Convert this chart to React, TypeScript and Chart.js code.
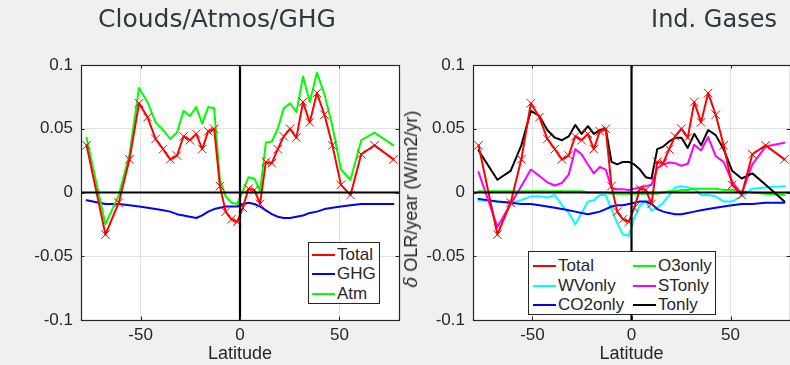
import React, { useEffect, useRef } from 'react';
import { Chart, registerables } from 'chart.js';

Chart.register(...registerables);

// ---------- data ----------
const latitudes = [-77.2, -67.7, -61.0, -55.6, -50.8, -46.5, -42.5, -38.7, -35.1, -31.7, -28.4, -25.2, -22.0, -19.0, -16.0, -13.0, -10.1, -7.2, -4.3, -1.4, 1.4, 4.3, 7.2, 10.1, 13.0, 16.0, 19.0, 22.0, 25.2, 28.4, 31.7, 35.1, 38.7, 42.5, 46.5, 50.8, 55.6, 61.0, 67.7, 77.2];

const total = [0.037, -0.033, -0.008, 0.026, 0.070, 0.059, 0.042, 0.034, 0.026, 0.029, 0.044, 0.041, 0.046, 0.034, 0.048, 0.050, 0.005, -0.015, -0.021, -0.023, -0.012, 0.003, 0.002, -0.009, 0.024, 0.023, 0.034, 0.044, 0.050, 0.043, 0.071, 0.055, 0.078, 0.061, 0.037, 0.006, -0.002, 0.030, 0.037, 0.026];

const ghg = [-0.006, -0.009, -0.009, -0.010, -0.011, -0.012, -0.013, -0.014, -0.015, -0.017, -0.018, -0.019, -0.020, -0.018, -0.015, -0.013, -0.012, -0.011, -0.011, -0.011, -0.009, -0.008, -0.009, -0.011, -0.014, -0.017, -0.019, -0.020, -0.020, -0.019, -0.018, -0.016, -0.015, -0.013, -0.012, -0.011, -0.010, -0.009, -0.009, -0.009];

const atm = [0.043, -0.025, -0.002, 0.030, 0.082, 0.071, 0.055, 0.049, 0.042, 0.047, 0.064, 0.060, 0.067, 0.054, 0.067, 0.066, 0.010, -0.003, -0.008, -0.009, 0.001, 0.012, 0.011, 0.001, 0.039, 0.040, 0.050, 0.066, 0.070, 0.063, 0.091, 0.071, 0.094, 0.077, 0.052, 0.018, 0.010, 0.041, 0.047, 0.037];

const wvOnly = [-0.006, -0.007, -0.008, -0.006, -0.003, -0.003, -0.004, -0.002, -0.010, -0.016, -0.025, -0.016, -0.007, -0.006, -0.002, -0.002, -0.013, -0.024, -0.033, -0.034, -0.020, -0.010, -0.007, -0.014, -0.012, -0.008, -0.002, 0.004, 0.005, 0.004, 0.003, -0.002, -0.002, -0.003, -0.007, -0.007, -0.003, 0.003, 0.004, 0.005];

const co2Only = [-0.005, -0.007, -0.008, -0.009, -0.009, -0.010, -0.011, -0.012, -0.013, -0.014, -0.015, -0.016, -0.017, -0.016, -0.015, -0.013, -0.011, -0.010, -0.010, -0.009, -0.008, -0.007, -0.007, -0.009, -0.013, -0.015, -0.016, -0.017, -0.017, -0.016, -0.015, -0.014, -0.013, -0.012, -0.011, -0.010, -0.009, -0.009, -0.008, -0.008];

const o3Only = [0.001, 0.001, 0.001, 0.001, 0.001, 0.001, 0.001, 0.001, 0.001, 0.001, 0.001, 0.001, 0.0, 0.0, 0.0, 0.0, -0.001, -0.001, -0.001, -0.001, -0.001, -0.001, -0.001, -0.001, -0.001, 0.0, 0.001, 0.001, 0.002, 0.002, 0.003, 0.003, 0.003, 0.003, 0.002, 0.002, 0.001, 0.0, -0.001, -0.002];

const stOnly = [0.016, -0.027, -0.009, 0.005, 0.018, 0.013, 0.008, 0.0055, 0.0075, 0.014, 0.034, 0.030, 0.022, 0.015, 0.020, 0.018, 0.0035, 0.0025, 0.0025, 0.002, 0.003, 0.004, 0.005, 0.006, 0.019, 0.022, 0.0235, 0.023, 0.021, 0.0225, 0.0375, 0.033, 0.0435, 0.0285, 0.024, 0.0085, -0.001, 0.022, 0.036, 0.039];

const tOnly = [0.033, 0.010, 0.017, 0.037, 0.064, 0.060, 0.049, 0.043, 0.041, 0.044, 0.053, 0.046, 0.052, 0.046, 0.049, 0.050, 0.024, 0.022, 0.024, 0.024, 0.022, 0.018, 0.012, 0.011, 0.034, 0.036, 0.040, 0.043, 0.043, 0.035, 0.046, 0.037, 0.049, 0.045, 0.034, 0.017, 0.011, 0.015, 0.006, -0.007];

const xTicks = [-50, 0, 50];
const xTickLabels = ['-50', '0', '50'];
const yTicks = [-0.1, -0.05, 0, 0.05, 0.1];
const yTickLabels = ['-0.1', '-0.05', '0', '0.05', '0.1'];

const leftTitle = 'Clouds/Atmos/GHG';
const rightTitle = 'Ind. Gases';
const xAxisTitle = 'Latitude';
const yAxisTitleRest = ' OLR/year (W/m2/yr)';

// ---------- styling ----------
const AXIS_FONT = "'Liberation Sans', Arial, Helvetica, sans-serif";
const TEXT = '#262626';
const RED = '#ff0000';
const BLUE = '#0000ff';
const GREEN = '#00ff00';
const CYAN = '#00ffff';
const MAGENTA = '#ff00ff';
const BLACK = '#000000';

function lineDataset(label: string, values: number[], color: string, order: number, extra: any = {}) {
  return {
    label,
    data: latitudes.map((x, i) => ({ x, y: values[i] })),
    borderColor: color,
    backgroundColor: color,
    borderWidth: 2,
    pointRadius: 0,
    tension: 0,
    fill: false,
    borderJoinStyle: 'round',
    borderCapStyle: 'round',
    order,
    ...extra,
  };
}

const totalMarker = {
  pointStyle: 'crossRot',
  pointRadius: 6,
  pointHoverRadius: 6,
  pointBorderWidth: 1,
  pointBorderColor: RED,
};

const framePlugin = {
  id: 'matlabFrame',
  beforeDraw(chart: any) {
    const { ctx, chartArea: a } = chart;
    ctx.save();
    ctx.fillStyle = '#ffffff';
    ctx.fillRect(a.left, a.top, a.right - a.left, a.bottom - a.top);
    ctx.restore();
  },
  afterDatasetsDraw(chart: any) {
    const { ctx, chartArea: a, scales } = chart;
    const xs = scales.x;
    const ys = scales.y;
    const x0 = xs.getPixelForValue(0);
    const y0 = ys.getPixelForValue(0);
    ctx.save();
    ctx.beginPath();
    ctx.rect(a.left, a.top, a.right - a.left, a.bottom - a.top);
    ctx.clip();
    ctx.strokeStyle = '#000000';
    ctx.lineWidth = 2.2;
    ctx.beginPath();
    ctx.moveTo(a.left, y0);
    ctx.lineTo(a.right, y0);
    ctx.moveTo(x0, a.top);
    ctx.lineTo(x0, a.bottom);
    ctx.stroke();
    ctx.restore();

    ctx.save();
    ctx.strokeStyle = TEXT;
    ctx.lineWidth = 1;
    const tl = 3.5;
    ctx.beginPath();
    xs.ticks.forEach((t: any) => {
      const px = Math.round(xs.getPixelForValue(t.value)) + 0.5;
      ctx.moveTo(px, a.top);
      ctx.lineTo(px, a.top + tl);
      ctx.moveTo(px, a.bottom);
      ctx.lineTo(px, a.bottom - tl);
    });
    ys.ticks.forEach((t: any) => {
      const py = Math.round(ys.getPixelForValue(t.value)) + 0.5;
      ctx.moveTo(a.left, py);
      ctx.lineTo(a.left + tl, py);
      ctx.moveTo(a.right, py);
      ctx.lineTo(a.right - tl, py);
    });
    ctx.stroke();
    ctx.lineWidth = 1.2;
    ctx.strokeRect(Math.round(a.left) + 0.5, Math.round(a.top) + 0.5, Math.round(a.right - a.left), Math.round(a.bottom - a.top));
    ctx.restore();
  },
};

function makeConfig(datasets: any[], yWidth: number, padRight: number) {
  return {
    type: 'line',
    data: { datasets },
    options: {
      animation: false,
      responsive: false,
      events: [],
      layout: { autoPadding: false, padding: { left: 0, top: 65, right: padRight, bottom: 0 } },
      plugins: {
        legend: { display: false },
        tooltip: { enabled: false },
        title: { display: false },
      },
      scales: {
        x: {
          type: 'linear',
          min: -80,
          max: 80,
          afterBuildTicks: (s: any) => {
            s.ticks = xTicks.map((v) => ({ value: v }));
          },
          afterFit: (s: any) => {
            s.height = 45;
            s.paddingLeft = 0;
            s.paddingRight = 0;
          },
          grid: { color: '#e2e2e2', lineWidth: 1, drawTicks: false },
          border: { display: false },
          ticks: {
            padding: 5,
            color: TEXT,
            autoSkip: false,
            maxRotation: 0,
            font: { family: AXIS_FONT, size: 17, lineHeight: 1.2 },
            callback: (_v: any, i: number) => xTickLabels[i],
          },
          title: {
            display: true,
            text: xAxisTitle,
            color: TEXT,
            padding: { top: 0, bottom: 0 },
            font: { family: AXIS_FONT, size: 18, lineHeight: 1.2 },
          },
        },
        y: {
          type: 'linear',
          min: -0.1,
          max: 0.1,
          afterBuildTicks: (s: any) => {
            s.ticks = yTicks.map((v) => ({ value: v }));
          },
          afterFit: (s: any) => {
            s.width = yWidth;
            s.paddingTop = 0;
            s.paddingBottom = 0;
          },
          grid: { color: '#e2e2e2', lineWidth: 1, drawTicks: false },
          border: { display: false },
          ticks: {
            padding: 8,
            color: TEXT,
            autoSkip: false,
            font: { family: AXIS_FONT, size: 17, lineHeight: 1.2 },
            callback: (_v: any, i: number) => yTickLabels[i],
          },
        },
      },
    },
    plugins: [framePlugin],
  };
}

type LegendItem = { label: string; color: string; col: number; row: number };

const leftLegend: LegendItem[] = [
  { label: 'Total', color: RED, col: 0, row: 0 },
  { label: 'GHG', color: BLUE, col: 0, row: 1 },
  { label: 'Atm', color: GREEN, col: 0, row: 2 },
];

const rightLegend: LegendItem[] = [
  { label: 'Total', color: RED, col: 0, row: 0 },
  { label: 'WVonly', color: CYAN, col: 0, row: 1 },
  { label: 'CO2only', color: BLUE, col: 0, row: 2 },
  { label: 'O3only', color: GREEN, col: 1, row: 0 },
  { label: 'STonly', color: MAGENTA, col: 1, row: 1 },
  { label: 'Tonly', color: BLACK, col: 1, row: 2 },
];

function LegendBox(props: {
  items: LegendItem[];
  left: number;
  top: number;
  width: number;
  height: number;
  rowCenters: number[];
  colX: number[];
  swatch: number;
}) {
  const { items, left, top, width, height, rowCenters, colX, swatch } = props;
  return (
    <div
      style={{
        position: 'absolute',
        left,
        top,
        width,
        height,
        boxSizing: 'border-box',
        background: '#ffffff',
        border: '1px solid ' + TEXT,
      }}
    >
      {items.map((it) => (
        <React.Fragment key={it.label}>
          <div
            style={{
              position: 'absolute',
              left: colX[it.col],
              top: rowCenters[it.row] - 1,
              width: swatch,
              height: 2,
              background: it.color,
            }}
          />
          <span
            style={{
              position: 'absolute',
              left: colX[it.col] + swatch + 2,
              top: rowCenters[it.row] - 10,
              lineHeight: '20px',
              fontSize: 17,
              fontFamily: AXIS_FONT,
              color: TEXT,
              whiteSpace: 'nowrap',
            }}
          >
            {it.label}
          </span>
        </React.Fragment>
      ))}
    </div>
  );
}

export default function App() {
  const leftRef = useRef<HTMLCanvasElement | null>(null);
  const rightRef = useRef<HTMLCanvasElement | null>(null);

  useEffect(() => {
    const leftSets = [
      lineDataset('Total', total, RED, 0, totalMarker),
      lineDataset('GHG', ghg, BLUE, 2),
      lineDataset('Atm', atm, GREEN, 1),
    ];
    const rightSets = [
      lineDataset('Total', total, RED, 0, totalMarker),
      lineDataset('WVonly', wvOnly, CYAN, 5),
      lineDataset('CO2only', co2Only, BLUE, 4),
      lineDataset('O3only', o3Only, GREEN, 3),
      lineDataset('STonly', stOnly, MAGENTA, 2),
      lineDataset('Tonly', tOnly, BLACK, 1),
    ];
    const c1 = new Chart(leftRef.current as HTMLCanvasElement, makeConfig(leftSets, 81, 21) as any);
    const c2 = new Chart(rightRef.current as HTMLCanvasElement, makeConfig(rightSets, 53, 0) as any);
    return () => {
      c1.destroy();
      c2.destroy();
    };
  }, []);

  const titleStyle: React.CSSProperties = {
    position: 'absolute',
    top: 4,
    width: 320,
    textAlign: 'center',
    fontFamily: "'DejaVu Sans', Verdana, sans-serif",
    fontSize: 25,
    lineHeight: '30px',
    color: '#2b3a3e',
    whiteSpace: 'nowrap',
  };

  return (
    <div
      style={{
        position: 'absolute',
        left: 0,
        top: 0,
        width: 790,
        height: 365,
        background: '#f0f0f0',
        overflow: 'hidden',
      }}
    >
      <canvas
        ref={leftRef}
        width={420}
        height={365}
        style={{ position: 'absolute', left: 0, top: 0, width: 420, height: 365, display: 'block' }}
      />
      <canvas
        ref={rightRef}
        width={370}
        height={365}
        style={{ position: 'absolute', left: 420, top: 0, width: 370, height: 365, display: 'block' }}
      />
      <div style={{ ...titleStyle, left: 217 - 160 }}>{leftTitle}</div>
      <div style={{ ...titleStyle, left: 714 - 160, fontSize: 24 }}>{rightTitle}</div>
      <div
        style={{
          position: 'absolute',
          left: 411,
          top: 199,
          transform: 'translate(-50%, -50%) rotate(-90deg)',
          fontFamily: AXIS_FONT,
          fontSize: 18,
          lineHeight: '20px',
          color: TEXT,
          whiteSpace: 'nowrap',
        }}
      >
        <i style={{ fontFamily: "'DejaVu Serif', serif" }}>δ</i>
        {yAxisTitleRest}
      </div>
      <LegendBox
        items={leftLegend}
        left={308}
        top={242}
        width={72}
        height={62}
        rowCenters={[11.5, 31, 50.5]}
        colX={[3, 0]}
        swatch={23}
      />
      <LegendBox
        items={rightLegend}
        left={528}
        top={251}
        width={188}
        height={64}
        rowCenters={[14, 33.5, 52.5]}
        colX={[4, 104]}
        swatch={23}
      />
    </div>
  );
}
